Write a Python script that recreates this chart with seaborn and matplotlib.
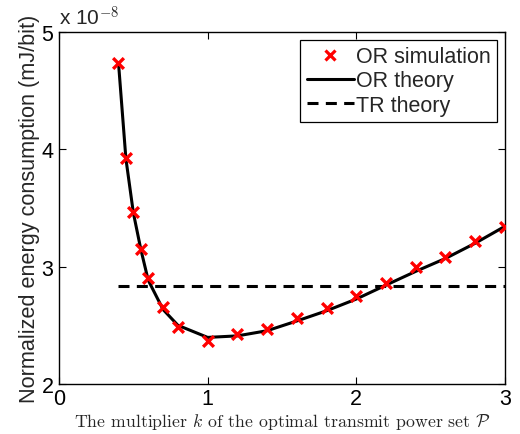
import numpy as np
import pandas as pd
import seaborn as sns
import matplotlib
matplotlib.use("Agg")
import matplotlib.pyplot as plt
from matplotlib.lines import Line2D

# Data (values in units of 1e-8 mJ/bit)
k_sim = [0.4, 0.45, 0.5, 0.55, 0.6, 0.7, 0.8, 1.0, 1.2, 1.4, 1.6, 1.8, 2.0, 2.2, 2.4, 2.6, 2.8, 3.0]
or_sim = [4.74, 3.926, 3.468, 3.15, 2.90, 2.658, 2.488, 2.368, 2.425, 2.468, 2.562, 2.645, 2.747, 2.86, 3.0, 3.079, 3.22, 3.335]
k_theory = [0.4, 0.45, 0.5, 0.55, 0.6, 0.7, 0.8, 1.0, 1.2, 1.4, 1.6, 1.8, 2.0, 2.2, 2.4, 2.6, 2.8, 3.0]
or_theory = [4.74, 3.92, 3.46, 3.15, 2.885, 2.635, 2.50, 2.397, 2.41, 2.454, 2.537, 2.624, 2.724, 2.843, 2.96, 3.07, 3.20, 3.344]
k_tr = [0.4, 3.0]
tr_theory = [2.837, 2.837]

xticks = [0, 1, 2, 3]
yticks = [2, 3, 4, 5]

sns.set_theme(style="ticks")
plt.rcParams['font.family'] = ['Liberation Sans', 'DejaVu Sans']
plt.rcParams['mathtext.fontset'] = 'cm'

fig = plt.figure(figsize=(5.2, 4.35), dpi=100)
ax = fig.add_axes([0.1135, 0.115, 0.8575, 0.809])

df_sim = pd.DataFrame({"k": k_sim, "E": or_sim})
df_th = pd.DataFrame({"k": k_theory, "E": or_theory})
df_tr = pd.DataFrame({"k": k_tr, "E": tr_theory})

sns.lineplot(data=df_th, x="k", y="E", ax=ax, color="black", linewidth=2.2,
             sort=False, zorder=2)
sns.lineplot(data=df_tr, x="k", y="E", ax=ax, color="black", linewidth=2.2,
             sort=False, zorder=2, dashes=False)
ax.lines[-1].set_linestyle((0, (3.6, 2.4)))
sns.scatterplot(data=df_sim, x="k", y="E", ax=ax, color="red", marker="x",
                s=60, linewidth=2.4, zorder=3)

ax.set_xlim(0, 3)
ax.set_ylim(2, 5)
ax.set_xticks(xticks)
ax.set_yticks(yticks)
ax.set_xticklabels([str(t) for t in xticks])
ax.set_yticklabels([str(t) for t in yticks])
ax.tick_params(direction="in", length=5, width=0.8, top=True, right=True,
               labelsize=15.5, colors="black")
ax.tick_params(axis="x", pad=3)
ax.tick_params(axis="y", pad=4)
for s in ax.spines.values():
    s.set_visible(True)
    s.set_linewidth(1.0)
    s.set_color("black")

ax.set_ylabel("Normalized energy consumption (mJ/bit)", fontsize=15.6, labelpad=1)
ax.set_xlabel(r"The multiplier $k$ of the optimal transmit power set $\mathcal{P}$",
              fontsize=12.8, labelpad=1)
ax.xaxis.label.set_fontfamily(["cmr10"])
ax.text(0.0, 1.01, r"x 10$^{\mathsf{-8}}$", transform=ax.transAxes, fontsize=15,
        ha="left", va="bottom")

handles = [
    Line2D([], [], color="red", marker="x", linestyle="", markersize=7, markeredgewidth=2.3),
    Line2D([], [], color="black", linewidth=2.2),
    Line2D([], [], color="black", linewidth=2.2, linestyle=(0, (3.6, 2.4))),
]
leg = ax.legend(handles, ["OR simulation", "OR theory", "TR theory"], loc="upper right",
                fontsize=15.5, frameon=True, fancybox=False, framealpha=1,
                edgecolor="black", handlelength=2.2, handletextpad=0.1,
                borderpad=0.3, labelspacing=0.15, borderaxespad=0.35)
leg.get_frame().set_linewidth(0.9)

fig.savefig("out.png", dpi=100)
